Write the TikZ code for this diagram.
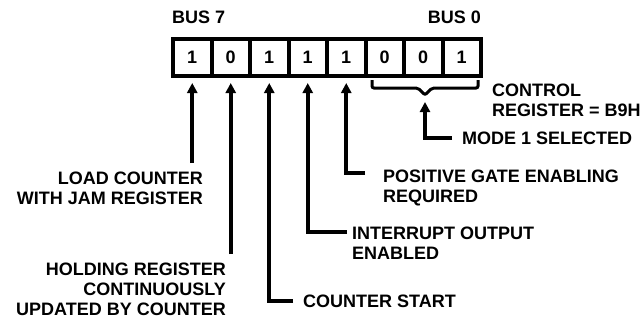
\documentclass[tikz,border=0pt]{standalone}
\usepackage{fontspec}
\setmainfont{Liberation Sans}
\usetikzlibrary{arrows.meta}

\tikzset{
  lbl/.style={font=\bfseries\fontsize{18}{20}\selectfont, inner sep=0pt},
  bit/.style={draw, line width=4pt, minimum width=38.5pt, minimum height=37pt,
    inner sep=0pt, font=\bfseries\fontsize{18}{20}\selectfont},
  arr/.style={line width=4pt, -{Triangle[width=10pt,length=10pt]}, shorten >=5pt},
}

\begin{document}
\begin{tikzpicture}[x=1pt, y=-1pt]
  \useasboundingbox (0,0) rectangle (641,325);

  % 寄存器的 8 位，左边是 BUS 7
  \foreach \v/\k [count=\i from 0] in {1/7,0/6,1/5,1/4,1/3,0/2,0/1,1/0}
    \node[bit] (b\k) at (192.25+38.5*\i,57.5) {\v};
  \node[lbl, anchor=west] (bus7) at (172,17) {BUS 7};
  \node[lbl, anchor=east] (bus0) at (481,17) {BUS 0};

  % 低三位下面的括号
  \draw[line width=3pt, rounded corners=2pt] (372,80) -- (372,88) -- (418,88)
    -- (425,95) -- (432,88) -- (478,88) -- (478,80);
  \coordinate (tip) at (425,95);

  % 说明文字
  \node[lbl, anchor=north east, align=right] (load) at (203,172) {LOAD COUNTER\\WITH JAM REGISTER};
  \node[lbl, anchor=north east, align=right] (hold) at (226,263) {HOLDING REGISTER\\CONTINUOUSLY\\UPDATED BY COUNTER};
  \node[lbl, anchor=west] (start) at (303,301) {COUNTER START};
  \node[lbl, anchor=north west, align=left] (irq) at (352,227) {INTERRUPT OUTPUT\\ENABLED};
  \node[lbl, anchor=north west, align=left] (gate) at (383,170) {POSITIVE GATE ENABLING\\REQUIRED};
  \node[lbl, anchor=west] (mode) at (462,138) {MODE 1 SELECTED};
  \node[lbl, anchor=north west, align=left] (ctrl) at (492,84) {CONTROL\\REGISTER = B9H};

  % 箭头
  \draw[arr, shorten <=9pt] (b7 |- load.north) -- (b7.south);
  \draw[arr, shorten <=9pt] (b6 |- hold.north) -- (b6.south);
  \draw[arr] ([xshift=-10pt]start.west) -| (b5.south);
  \draw[arr] ([shift={(-5pt,-5pt)}]irq.north west) -| (b4.south);
  \draw[arr] ([shift={(-18pt,-3pt)}]gate.north west) -| (b3.south);
  \draw[arr, shorten >=7pt] ([xshift=-10pt]mode.west) -| (tip);
\end{tikzpicture}
\end{document}
